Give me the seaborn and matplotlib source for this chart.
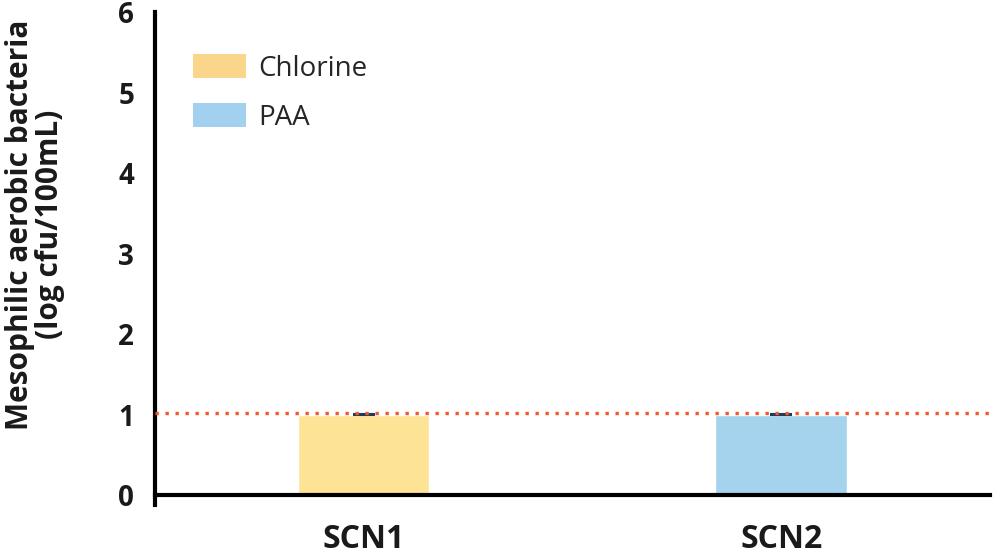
import matplotlib
matplotlib.use("Agg")
import matplotlib.pyplot as plt
import matplotlib.patches as mpatches
import seaborn as sns
import pandas as pd

sites = ["SCN1", "SCN2"]
treatments = ["Chlorine", "PAA"]
values = [1.0, 1.0]
errors = [0.01, 0.01]
detection_limit = 1.02

bar_colors = {"Chlorine": "#fde396", "PAA": "#a5d2ec"}
legend_colors = {"Chlorine": "#f9d68a", "PAA": "#a3d0ee"}

df = pd.DataFrame({"site": sites, "treatment": treatments, "value": values})

sns.set_style("white")
plt.rcParams["font.family"] = ["Open Sans", "DejaVu Sans"]

fig = plt.figure(figsize=(9.93, 5.54), dpi=100)
ax = fig.add_axes([0.156, 0.1065, 0.841, 0.8715])

sns.barplot(
    data=df,
    x="site",
    y="value",
    hue="treatment",
    palette=bar_colors,
    saturation=1,
    dodge=False,
    width=0.315,
    errorbar=None,
    legend=False,
    ax=ax
)

ax.errorbar(
    range(len(sites)),
    values,
    yerr=errors,
    fmt="none",
    ecolor="#1f3b5c",
    elinewidth=1,
    capsize=8,
    capthick=1.5
)

ax.axhline(
    detection_limit,
    color="#f05a28",
    linestyle=(0, (1, 2)),
    linewidth=2.4,
    zorder=5
)

ax.set_xlim(-0.5, 1.5)
ax.set_ylim(0, 6)
ax.set_yticks(range(7))

for side in ["top", "right"]:
    ax.spines[side].set_visible(False)
for side in ["left", "bottom"]:
    ax.spines[side].set_linewidth(3)
    ax.spines[side].set_color("black")
ax.spines["left"].set_bounds(-0.12, 6)

ax.tick_params(axis="y", direction="out", length=8, width=3, color="black",
               labelsize=20, pad=7, labelcolor="#1a1a1a")
ax.tick_params(axis="x", which="major", length=0, labelsize=23, pad=20,
               labelcolor="#1a1a1a")
ax.set_xticks([0.5, 1.5], minor=True)
ax.tick_params(axis="x", which="minor", direction="out", length=9, width=3,
               color="black")

for lab in ax.get_yticklabels() + ax.get_xticklabels():
    lab.set_fontweight("bold")

ax.set_xlabel("")
ax.set_ylabel("Mesophilic aerobic bacteria\n(log cfu/100mL)",
              fontsize=21.5, fontweight="bold", color="#1a1a1a",
              linespacing=1.0)
ax.yaxis.set_label_coords(-0.108, 0.56)

handles = [mpatches.Patch(facecolor=legend_colors[t], edgecolor="none", label=t)
           for t in treatments]
ax.legend(
    handles=handles,
    loc="upper left",
    bbox_to_anchor=(0.016, 0.965),
    frameon=False,
    fontsize=20,
    handlelength=1.9,
    handleheight=0.95,
    labelspacing=0.75,
    handletextpad=0.45
)

plt.savefig("out.png", dpi=100)
plt.close()
